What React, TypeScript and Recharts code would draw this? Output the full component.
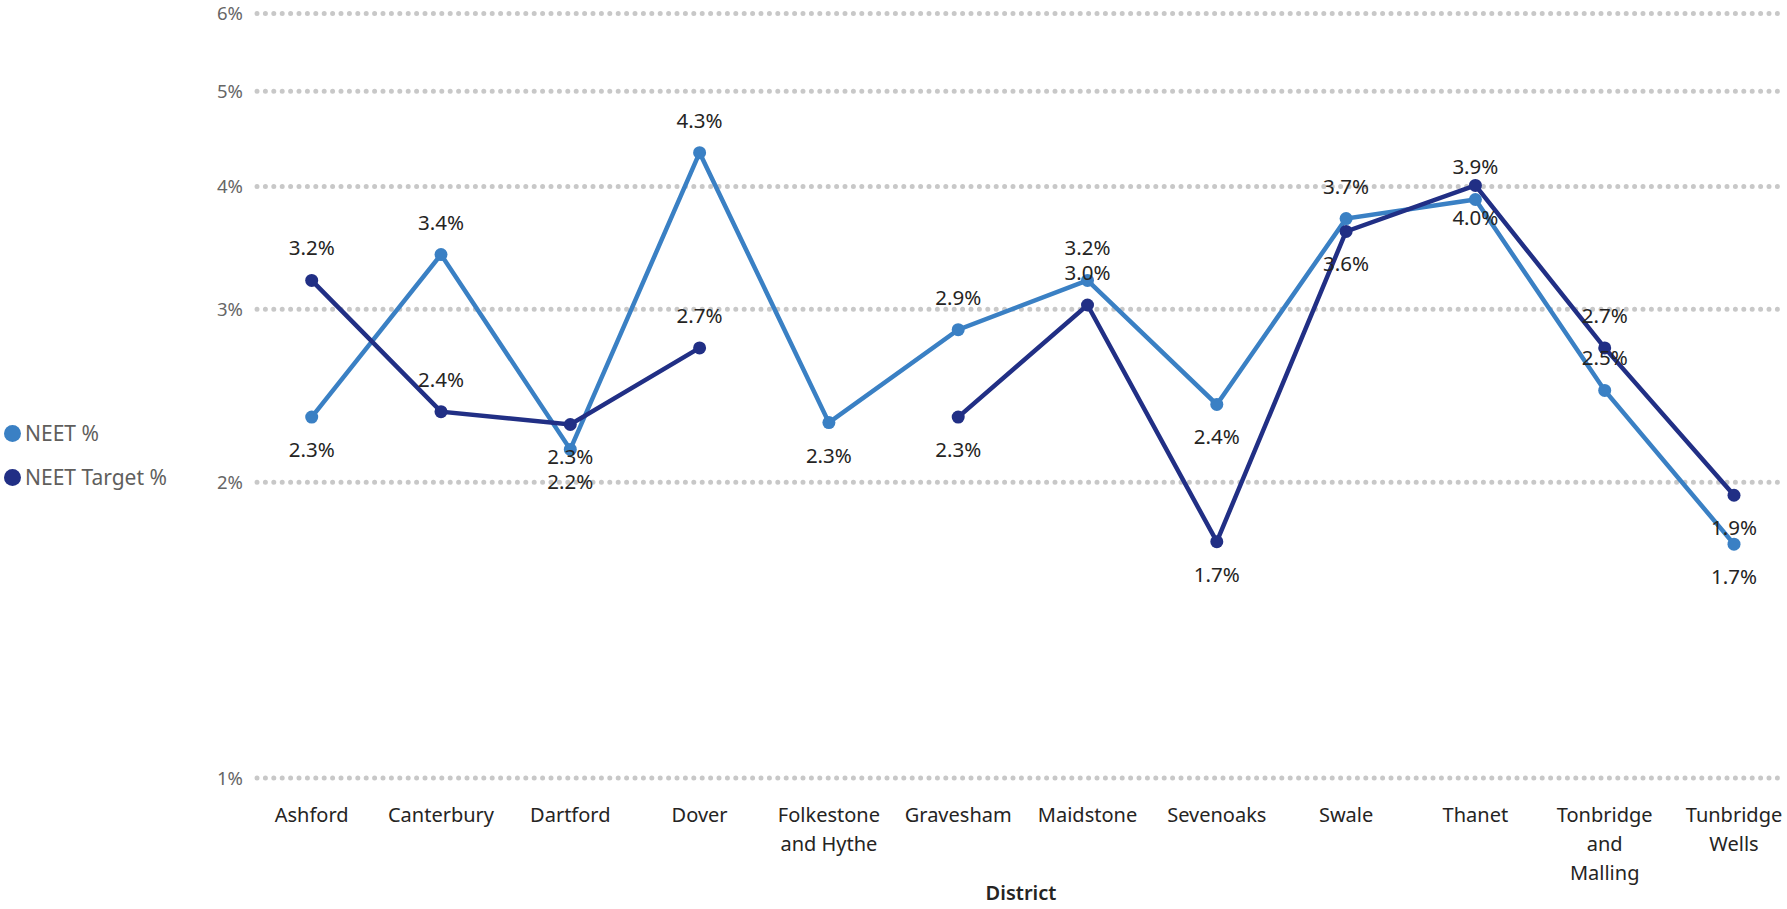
import { LineChart, Line, XAxis, YAxis, CartesianGrid, LabelList, Label } from 'recharts';

const DISTRICTS = [
  'Ashford', 'Canterbury', 'Dartford', 'Dover', 'Folkestone and Hythe', 'Gravesham',
  'Maidstone', 'Sevenoaks', 'Swale', 'Thanet', 'Tonbridge and Malling', 'Tunbridge Wells',
];
const TICK_LINES = [
  ['Ashford'], ['Canterbury'], ['Dartford'], ['Dover'], ['Folkestone', 'and Hythe'], ['Gravesham'],
  ['Maidstone'], ['Sevenoaks'], ['Swale'], ['Thanet'], ['Tonbridge', 'and', 'Malling'], ['Tunbridge', 'Wells'],
];
const NEET = [2.33, 3.41, 2.16, 4.33, 2.3, 2.86, 3.21, 2.4, 3.71, 3.88, 2.48, 1.73];
const NEET_TARGET = [3.21, 2.36, 2.29, 2.74, null, 2.33, 3.03, 1.74, 3.6, 4.01, 2.74, 1.94];
const Y_TICKS = [1, 2, 3, 4, 5, 6];

// which side of the point each data label sits on
const NEET_LABEL_SIDE = ['below', 'above', 'below', 'above', 'below', 'above', 'above', 'below', 'above', 'above', 'above', 'below'];
const TARGET_LABEL_SIDE = ['above', 'above', 'below', 'above', 'below', 'below', 'above', 'below', 'below', 'below', 'above', 'below'];

const LIGHT = '#3a80c4';
const DARK = '#212f85';
const FONT = '"Noto Sans", "Open Sans", sans-serif';

const data = DISTRICTS.map((d, i) => ({ district: d, neet: NEET[i], target: NEET_TARGET[i] }));

const makeLabel = (sides: string[]) => (props: any) => {
  const { x, y, value, index } = props;
  if (value == null || x == null || y == null) return null;
  const ty = sides[index] === 'above' ? y - 25 : y + 40;
  return (
    <text x={x} y={ty} textAnchor="middle" fontSize={20.5} fill="#252423" fontFamily={FONT}>
      {Number(value).toFixed(1)}%
    </text>
  );
};

const DistrictTick = (props: any) => {
  const { x, y, index } = props;
  const lines = TICK_LINES[index] || [];
  return (
    <text x={x} y={y + 36} textAnchor="middle" fontSize={20} fill="#252423" fontFamily={FONT}>
      {lines.map((l, i) => (
        <tspan key={i} x={x} dy={i === 0 ? 0 : 29}>{l}</tspan>
      ))}
    </text>
  );
};

const DottedLine = (props: any) => {
  const { x1, y1, x2, y2 } = props;
  return (
    <line x1={x1} y1={y1} x2={x2} y2={y2} stroke="#c8c8c8" strokeWidth={5}
      strokeDasharray="0 8.4" strokeLinecap="round" />
  );
};

export default function App() {
  return (
    <div style={{ position: 'absolute', left: 0, top: 0, width: 1787, height: 909, background: '#fff' }}>
      <LineChart width={1787} height={909} data={data}
        margin={{ top: 13.5, right: 2, bottom: 0, left: 197 }}>
        <CartesianGrid vertical={false} horizontal={DottedLine} />
        <XAxis dataKey="district" axisLine={false} tickLine={false} height={131}
          padding={{ left: 54.7, right: 51 }} interval={0} tick={<DistrictTick />}>
          <Label content={(p: any) => {
            const vb = p.viewBox;
            return (
              <text x={vb.x + vb.width / 2} y={900} textAnchor="middle" fontSize={20}
                fontWeight={600} fill="#252423" fontFamily={FONT}>District</text>
            );
          }} />
        </XAxis>
        <YAxis type="number" scale="log" domain={[1, 6]} ticks={Y_TICKS} allowDataOverflow
          width={60} axisLine={false} tickLine={false} tickSize={0} tickMargin={14}
          tickFormatter={(v: number) => `${v}%`}
          tick={{ fontSize: 18.5, fill: '#666666', fontFamily: FONT }} />
        <Line dataKey="neet" stroke={LIGHT} strokeWidth={4.5} isAnimationActive={false}
          dot={{ r: 6.5, fill: LIGHT, stroke: LIGHT, strokeWidth: 0 }} activeDot={false}>
          <LabelList dataKey="neet" content={makeLabel(NEET_LABEL_SIDE)} />
        </Line>
        <Line dataKey="target" stroke={DARK} strokeWidth={4.5} isAnimationActive={false}
          dot={{ r: 6.5, fill: DARK, stroke: DARK, strokeWidth: 0 }} activeDot={false}>
          <LabelList dataKey="target" content={makeLabel(TARGET_LABEL_SIDE)} />
        </Line>
      </LineChart>
      <div style={{ position: 'absolute', left: 0, top: 0, fontFamily: FONT, fontSize: 21, color: '#605e5c' }}>
        {[['NEET %', LIGHT, 433], ['NEET Target %', DARK, 477]].map(([name, color, cy]) => (
          <div key={name as string} style={{ position: 'absolute', left: 4, top: (cy as number) - 15, height: 30,
            display: 'flex', alignItems: 'center', whiteSpace: 'nowrap' }}>
            <span style={{ width: 17, height: 17, borderRadius: '50%', background: color as string,
              display: 'inline-block', marginRight: 4 }} />
            <span>{name}</span>
          </div>
        ))}
      </div>
    </div>
  );
}
